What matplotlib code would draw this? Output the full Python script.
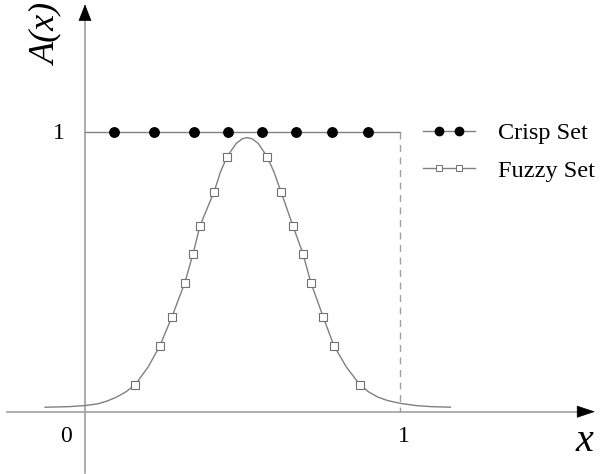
import matplotlib
matplotlib.use("Agg")
import matplotlib.pyplot as plt
from matplotlib.legend_handler import HandlerLine2D, HandlerTuple

# ---- data ----
crisp_x = [0.092, 0.219, 0.346, 0.454, 0.562, 0.670, 0.784, 0.898]
crisp_y = [1, 1, 1, 1, 1, 1, 1, 1]
crisp_edge_x = [0.0, 1.0]
crisp_edge_y = [1.0, 1.0]

fuzzy_curve_x = [-0.127, -0.05, 0.0, 0.04, 0.07, 0.10, 0.13, 0.159, 0.20, 0.238, 0.276,
                 0.317, 0.343, 0.365, 0.410, 0.43, 0.451, 0.48, 0.50, 0.514, 0.53,
                 0.55, 0.578, 0.60, 0.622, 0.660, 0.692, 0.717, 0.756, 0.790, 0.83,
                 0.873, 0.90, 0.93, 0.96, 1.0, 1.05, 1.10, 1.16]
fuzzy_curve_y = [0.016, 0.018, 0.022, 0.028, 0.038, 0.052, 0.071, 0.096, 0.159, 0.236,
                 0.339, 0.461, 0.564, 0.664, 0.786, 0.856, 0.911, 0.958, 0.975, 0.979,
                 0.975, 0.958, 0.911, 0.856, 0.786, 0.664, 0.564, 0.461, 0.339, 0.236,
                 0.159, 0.096, 0.071, 0.052, 0.040, 0.030, 0.022, 0.018, 0.016]
fuzzy_mark_x = [0.159, 0.238, 0.276, 0.317, 0.343, 0.365, 0.410, 0.451,
                0.578, 0.622, 0.660, 0.692, 0.717, 0.756, 0.790, 0.873]
fuzzy_mark_y = [0.096, 0.236, 0.339, 0.461, 0.564, 0.664, 0.786, 0.911,
                0.911, 0.786, 0.664, 0.564, 0.461, 0.339, 0.236, 0.096]

x_ticks = [0, 1]
x_tick_labels = ["0", "1"]
y_ticks = [1]
y_tick_labels = ["1"]
legend_labels = ["Crisp Set", "Fuzzy Set"]

serif = ["Liberation Serif", "DejaVu Serif"]
plt.rcParams["font.family"] = serif

fig = plt.figure(figsize=(6.0, 4.74), dpi=100)
ax = fig.add_axes([0, 0, 1, 1])
ax.set_xlim(-85 / 315, 515 / 315)
ax.set_ylim(-62.3 / 280, 411.7 / 280)
ax.axis("off")

axis_col = "#a0a0a0"
line_col = "#808080"

# axes lines
ax.plot([-0.248, 1.57], [0, 0], color=axis_col, lw=1.2, zorder=1)
ax.plot([0, 0], [-0.219, 1.41], color=axis_col, lw=1.2, zorder=1)
# arrow heads
ax.annotate("", xy=(1.619, 0), xytext=(1.566, 0),
            arrowprops=dict(arrowstyle="-|>,head_length=1.2,head_width=0.4",
                            color="black", lw=0.5, shrinkA=0, shrinkB=0))
ax.annotate("", xy=(0, 1.455), xytext=(0, 1.40),
            arrowprops=dict(arrowstyle="-|>,head_length=1.1,head_width=0.43",
                            color="black", lw=0.5, shrinkA=0, shrinkB=0))

# crisp set
ax.plot(crisp_edge_x, crisp_edge_y, color=line_col, lw=1.0, zorder=2)
ax.plot([crisp_edge_x[-1], crisp_edge_x[-1]], [crisp_edge_y[-1], 0],
        color=axis_col, lw=1.0, ls=(0, (5, 4)), zorder=2)
ax.plot(crisp_x, crisp_y, ls="none", marker="o", ms=6.8, color="black", zorder=3)

# fuzzy set
ax.plot(fuzzy_curve_x, fuzzy_curve_y, color=line_col, lw=1.0, zorder=2)
ax.plot(fuzzy_mark_x, fuzzy_mark_y, ls="none", marker="s", ms=5.6,
        mfc="white", mec="#707070", mew=0.8, zorder=3)

# legend: line part + marker part overlaid
l1, = ax.plot([], [], color=line_col, lw=1.0)
m1, = ax.plot([], [], ls="none", marker="o", ms=6.0, mfc="black", mec="black")
l2, = ax.plot([], [], color=line_col, lw=1.0)
m2, = ax.plot([], [], ls="none", marker="s", ms=4.2, mfc="white", mec="#707070", mew=0.7)
leg = ax.legend([(l1, m1), (l2, m2)], legend_labels, loc="center left",
                bbox_to_anchor=(423 / 600, 1 - 152 / 474), frameon=False,
                fontsize=17.5, numpoints=2, handlelength=2.14, handletextpad=0.95,
                labelspacing=0.62, borderpad=0, borderaxespad=0,
                handler_map={tuple: HandlerTuple(ndivide=1, pad=0),
                             l1: HandlerLine2D(marker_pad=0, numpoints=2),
                             l2: HandlerLine2D(marker_pad=0, numpoints=2),
                             m1: HandlerLine2D(marker_pad=0.66, numpoints=2),
                             m2: HandlerLine2D(marker_pad=0.66, numpoints=2)})

# tick labels
for t, lab in zip(x_ticks, x_tick_labels):
    off = -0.060 if t == 0 else 0.013
    ax.text(t + off, -0.088, lab, ha="center", va="center", fontsize=17)
for t, lab in zip(y_ticks, y_tick_labels):
    ax.text(-0.083, t - 0.005, lab, ha="center", va="center", fontsize=17)

# axis labels
ax.text(1.584, -0.108, "x", ha="center", va="center", fontsize=29, style="italic")
ax.text(-0.121, 1.349, "A(x)", ha="center", va="center", fontsize=26,
        style="italic", rotation=90)

fig.savefig("out.png", dpi=100)
